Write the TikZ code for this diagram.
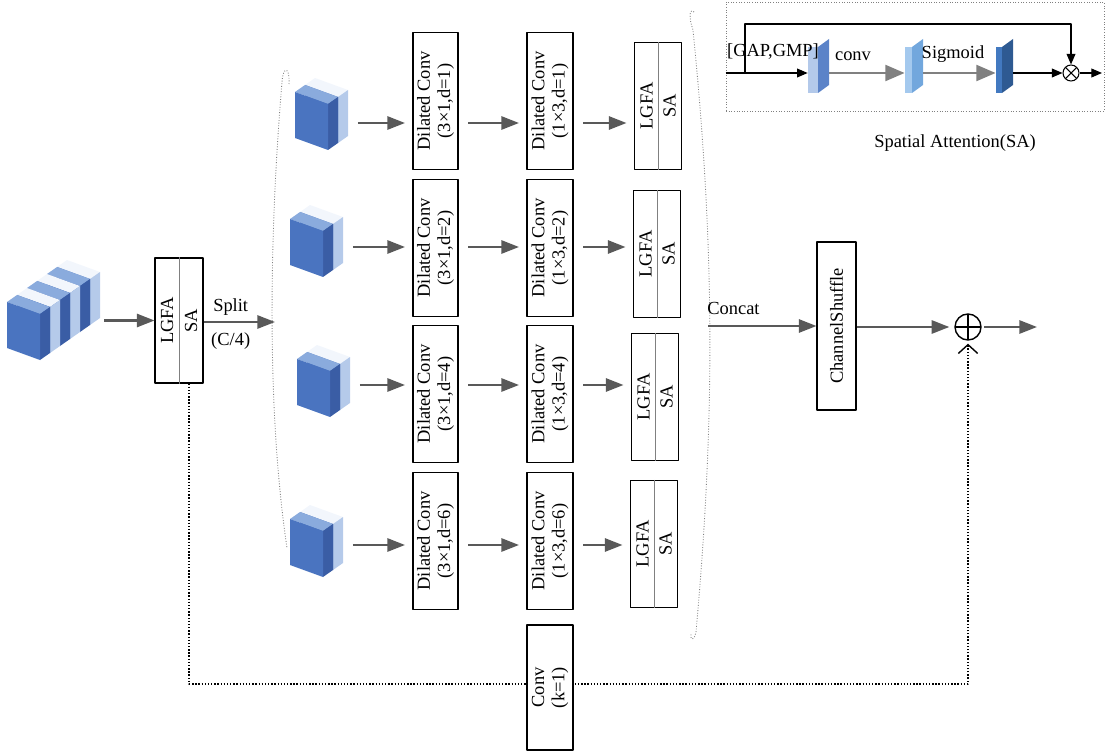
\documentclass[tikz,border=0pt]{standalone}
\usepackage{fontspec}
\setmainfont{Liberation Serif}
\usetikzlibrary{arrows.meta}
\definecolor{cubefront}{HTML}{4A74C0}
\definecolor{cubeside}{HTML}{3A5DA5}
\definecolor{cubetop}{HTML}{8AABDD}
\definecolor{paleside}{HTML}{B5CAEA}
\definecolor{paletop}{HTML}{F2F6FC}
\definecolor{arrowgray}{HTML}{595959}
\definecolor{mapafront}{HTML}{B3C9EA}
\definecolor{mapaside}{HTML}{5B83C8}
\definecolor{mapbfront}{HTML}{A4C9EE}
\definecolor{mapbside}{HTML}{72A7DD}
\definecolor{mapcfront}{HTML}{4279C0}
\definecolor{mapcside}{HTML}{2E5A92}
\tikzset
{
	my box/.style={draw,line width=0.6pt,inner sep=0pt},
	my ghost/.style={inner sep=0pt},
	my label/.style={rotate=90,align=center,inner sep=1pt},
	my arrow/.style={draw=arrowgray,line width=1.2pt,-{Triangle[length=10pt,width=7.5pt]}},
	my gap/.style={shorten <=.19cm,shorten >=.15cm},
	my thin/.style={line width=0.6pt,-{Triangle[length=6pt,width=5pt]}},
	my sa arrow/.style={draw=gray,line width=1.6pt,-{Triangle[length=11pt,width=9pt]}},
	my paren/.style={densely dotted,line width=0.5pt,gray},
	my add/.style={draw,circle,line width=0.8pt,minimum size=.52cm,inner sep=0pt,
		path picture={\draw[line width=0.8pt] (path picture bounding box.north) -- (path picture bounding box.south)
		(path picture bounding box.west) -- (path picture bounding box.east);}},
	my mul/.style={draw,circle,line width=0.6pt,minimum size=.32cm,inner sep=0pt,
		path picture={\draw[line width=0.6pt] (path picture bounding box.north west) -- (path picture bounding box.south east)
		(path picture bounding box.north east) -- (path picture bounding box.south west);}}
}
% block of slabs: x, y of front top-left corner, number of slabs
\newcommand\drawblock[3]{%
	\foreach \j in {#3,...,1}{
		\pgfmathsetmacro\ox{#1+(\j-1)*10}
		\pgfmathsetmacro\oy{#2-(\j-1)*7}
		\ifodd\j \def\tc{cubetop}\def\sc{cubeside}\else\def\tc{paletop}\def\sc{paleside}\fi
		\fill[fill=\tc] (\ox,\oy) -- ++(33,12) -- ++(10,-7) -- ++(-33,-12) -- cycle;
		\fill[fill=\sc] (\ox+33,\oy+12) -- ++(10,-7) -- ++(0,46) -- ++(-10,7) -- cycle;
		\fill[cubefront] (\ox,\oy) -- ++(33,12) -- ++(0,46) -- ++(-33,-12) -- cycle;
	}}
% thin feature map: x, front width, front colour, side colour
\newcommand\drawslab[4]{%
	\fill[fill=#3] (#1,47) rectangle ++(#2,46);
	\fill[fill=#4] (#1+#2,47) -- ++(11,-8) -- ++(0,46) -- ++(-11,8) -- cycle;}

\begin{document}
\begin{tikzpicture}[x=0.02cm,y=-0.02cm,font=\fontsize{10.5}{11.5}\selectfont,line join=round]
	\useasboundingbox (0,0) rectangle (1109,753);
	% input
	\drawblock{7}{302}{6}
	\node[my ghost,minimum width=1.86cm,minimum height=1.9cm] (in) at (53.5,310.5) {};
	% first LGFA / SA
	\node[my box,minimum width=.96cm,minimum height=2.5cm] (lg0) at (179,320.5) {};
	\draw[gray,line width=.5pt] (lg0.north) -- (lg0.south);
	\node[rotate=90] (lg0a) at ([xshift=-.24cm]lg0.center) {LGFA};
	\node[rotate=90] (lg0b) at ([xshift=.24cm]lg0.center) {SA};
	\draw[my arrow,shorten <=.08cm] (in.east |- lg0) -- (lg0.west);
	% split
	\coordinate (lbr) at (275,322);
	\draw[my arrow] (lg0.east |- lbr) -- (lbr)
		node[pos=.38,above] (split) {Split}
		node[pos=.38,below,yshift=-2pt] (quarter) {(C/4)};
	% brackets
	\draw[my paren] (289,84) .. controls (290,66) and (283,66) .. (282,82)
		.. controls (268,250) and (268,420) .. (287,548);
	\draw[my paren] (694,12) .. controls (690,8) and (688,16) .. (693,30)
		.. controls (715,250) and (715,420) .. (696,632)
		.. controls (694,642) and (690,640) .. (691,634);
	% four branches
	\foreach[count=\i] \dil/\yc/\ya/\cx/\cy/\lx/\ly in
		{1/101/123/295/92/658/106,2/248/247/290/219/657/254,4/394/385/297/359/655/397,6/541/545/290/519/654/544}
	{
		\drawblock{\cx}{\cy}{2}
		\node[my ghost,minimum width=1.06cm,minimum height=1.42cm] (c\i) at (\cx+26.5,\cy+22.5) {};
		\coordinate (y\i) at (0,\ya);
		\node[my box,minimum width=.9cm,minimum height=2.74cm] (d\i) at (435.5,\yc) {};
		\node[my label] (dt\i) at (d\i) {Dilated Conv\\(3×1,d=\dil)};
		\node[my box,minimum width=.92cm,minimum height=2.74cm] (e\i) at (550,\yc) {};
		\node[my label] (et\i) at (e\i) {Dilated Conv\\(1×3,d=\dil)};
		\node[my box,minimum width=.94cm,minimum height=2.54cm] (l\i) at (\lx,\ly) {};
		\draw[gray,line width=.5pt] (l\i.north) -- (l\i.south);
		\node[rotate=90] (la\i) at ([xshift=-.23cm]l\i.center) {LGFA};
		\node[rotate=90] (lb\i) at ([xshift=.23cm]l\i.center) {SA};
		\draw[my arrow,my gap] (c\i.east |- y\i) -- (d\i.west |- y\i);
		\draw[my arrow,my gap] (d\i.east |- y\i) -- (e\i.west |- y\i);
		\draw[my arrow,my gap] (e\i.east |- y\i) -- (l\i.west |- y\i);
	}
	% concat, shuffle, add
	\coordinate (rbr) at (708,326);
	\node[anchor=base west,inner sep=0pt] (concat) at (707,315) {Concat};
	\node[my box,minimum width=.78cm,minimum height=3.36cm] (shuf) at (836.5,326) {};
	\node[rotate=90] (shuft) at (shuf) {ChannelShuffle};
	\node[my add] (add) at (968,327) {};
	\coordinate (out) at (1037,327);
	\draw[my arrow] (rbr) -- (shuf.west |- rbr);
	\draw[my arrow,shorten >=.1cm] (shuf.east |- add) -- (add);
	\draw[my arrow,shorten <=.05cm] (add) -- (out);
	% residual
	\coordinate (res) at (0,684);
	\draw[densely dotted,line width=.8pt,-{Straight Barb[length=5pt,width=11pt]},shorten >=.06cm]
		([xshift=.2cm]lg0.south) |- (add |- res) -- (add);
	\node[my box,fill=white,minimum width=.92cm,minimum height=2.5cm] (conv) at (550,687.5) {};
	\node[my label] (convt) at (conv) {Conv\\(k=1)};
	% spatial attention
	\node[draw=gray,densely dotted,line width=.5pt,minimum width=7.56cm,minimum height=2.18cm,inner sep=0pt] (sa) at (915,56.5) {};
	\node (satext) at (955,143) {Spatial Attention(SA)};
	\drawslab{808}{10}{mapafront}{mapaside}
	\drawslab{905}{7}{mapbfront}{mapbside}
	\drawslab{996}{6}{mapcfront}{mapcside}
	\node[my ghost,minimum width=.42cm,minimum height=1.08cm] (f1) at (818.5,66) {};
	\node[my ghost,minimum width=.36cm,minimum height=1.08cm] (f2) at (914,66) {};
	\node[my ghost,minimum width=.34cm,minimum height=1.08cm] (f3) at (1004.5,66) {};
	\node[my mul] (mul) at (1071,73) {};
	\coordinate (sarow) at (0,73);
	\coordinate (satop) at (0,24);
	\coordinate (sabr) at (745,73);
	\coordinate (saout) at (1102,73);
	\draw[my thin] (sa.west |- sarow) -- (f1.west |- sarow);
	\draw[my thin] (sabr) |- (mul |- satop) -- (mul);
	\draw[my sa arrow] (f1.east |- sarow) -- (f2.west |- sarow);
	\draw[my sa arrow] (f2.east |- sarow) -- (f3.west |- sarow);
	\draw[my thin] (f3.east |- sarow) -- (mul);
	\draw[my thin] (mul) -- (saout);
	\node (gap) at (773,52) {[GAP,GMP]};
	\node (convl) at (853,56) {conv};
	\node (sig) at (953,54) {Sigmoid};
\end{tikzpicture}
\end{document}
